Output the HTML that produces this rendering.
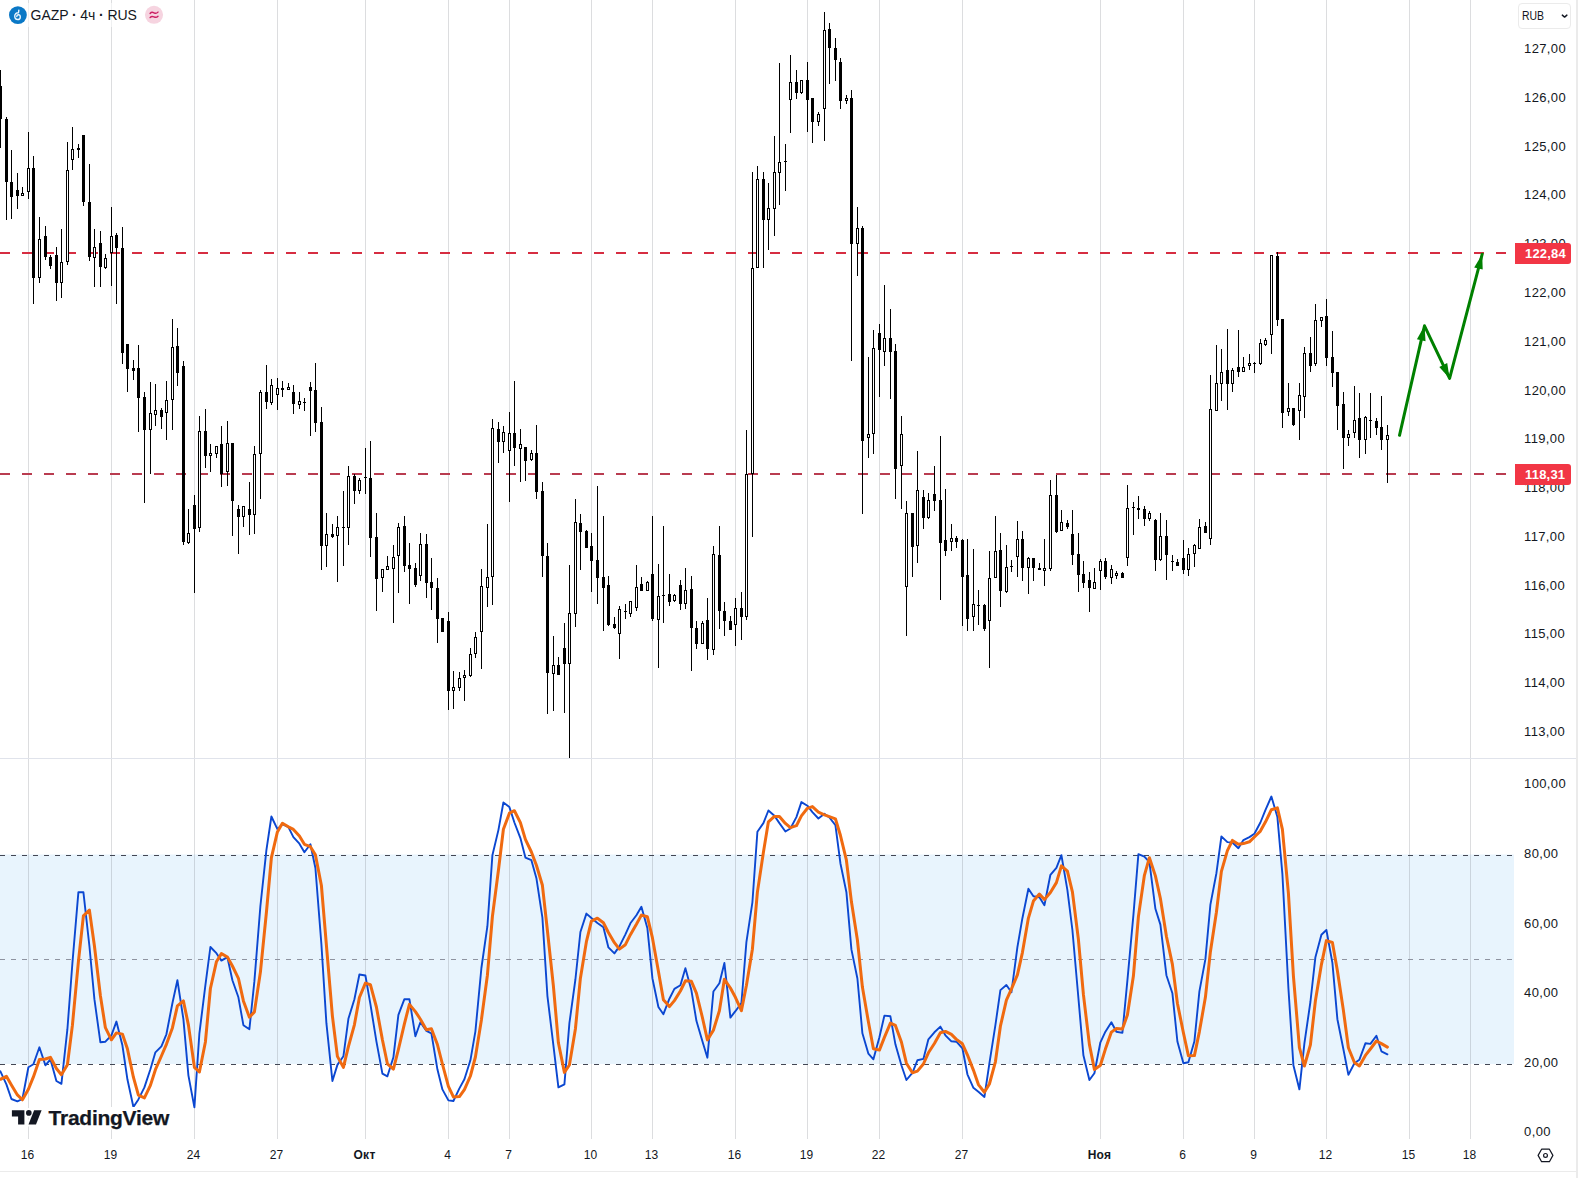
<!DOCTYPE html>
<html lang="ru"><head><meta charset="utf-8"><title>GAZP 4h</title>
<style>
html,body{margin:0;padding:0;background:#fff;}
body{width:1578px;height:1178px;position:relative;overflow:hidden;font-family:"Liberation Sans",sans-serif;color:#131722;}
svg{position:absolute;left:0;top:0;}
.pl{position:absolute;left:1524.1px;font-size:13px;letter-spacing:0.35px;line-height:16px;height:16px;white-space:nowrap;color:#131722;}
.tl{position:absolute;top:1146.6px;font-size:12px;line-height:16px;height:16px;width:60px;text-align:center;white-space:nowrap;color:#131722;}
.tl b{font-weight:bold;letter-spacing:0.3px;}
.tag{position:absolute;left:1515px;width:56px;height:21px;background:#f23645;color:#fff;font-weight:bold;font-size:13px;line-height:21px;border-radius:0 3px 3px 0;box-sizing:border-box;padding-left:10px;letter-spacing:0.2px;white-space:nowrap;}
.legend{position:absolute;left:30.6px;top:6px;font-size:14px;line-height:18px;letter-spacing:-0.08px;white-space:nowrap;color:#131722;}
.rub{position:absolute;left:1518px;top:3px;width:53px;height:26px;box-sizing:border-box;border:1px solid #ebebeb;border-radius:4px;background:#fff;font-size:12px;line-height:24px;padding-left:2.6px;letter-spacing:0;color:#131722;}
.logo{position:absolute;left:48.6px;top:1105.7px;font-size:21px;line-height:24px;font-weight:bold;color:#131722;letter-spacing:-0.26px;-webkit-text-stroke:0.25px #131722;white-space:nowrap;text-shadow:0 0 2px #fff,0 0 2px #fff,0 0 3px #fff,0 0 3px #fff,2px 0 1px #fff,-2px 0 1px #fff,0 2px 1px #fff,0 -2px 1px #fff;}
</style></head><body>
<svg width="1578" height="1178" viewBox="0 0 1578 1178">
<rect x="0" y="0" width="1578" height="1178" fill="#ffffff"/>
<rect x="0" y="854.5" width="1514" height="209.5" fill="#e8f4fd"/>
<g fill="rgba(100,102,114,0.225)" shape-rendering="crispEdges"><rect x="28" y="0" width="1" height="1139"/><rect x="111" y="0" width="1" height="1139"/><rect x="194" y="0" width="1" height="1139"/><rect x="277" y="0" width="1" height="1139"/><rect x="365" y="0" width="1" height="1139"/><rect x="448" y="0" width="1" height="1139"/><rect x="509" y="0" width="1" height="1139"/><rect x="591" y="0" width="1" height="1139"/><rect x="652" y="0" width="1" height="1139"/><rect x="735" y="0" width="1" height="1139"/><rect x="807" y="0" width="1" height="1139"/><rect x="879" y="0" width="1" height="1139"/><rect x="962" y="0" width="1" height="1139"/><rect x="1100" y="0" width="1" height="1139"/><rect x="1183" y="0" width="1" height="1139"/><rect x="1254" y="0" width="1" height="1139"/><rect x="1326" y="0" width="1" height="1139"/><rect x="1409" y="0" width="1" height="1139"/><rect x="1470" y="0" width="1" height="1139"/></g>
<rect x="0" y="758" width="1576" height="1" fill="#e0e3eb" shape-rendering="crispEdges"/>
<g fill="#434754" shape-rendering="crispEdges"><rect x="0" y="855" width="5" height="1"/><rect x="11" y="855" width="5" height="1"/><rect x="22" y="855" width="5" height="1"/><rect x="33" y="855" width="5" height="1"/><rect x="44" y="855" width="5" height="1"/><rect x="55" y="855" width="5" height="1"/><rect x="66" y="855" width="5" height="1"/><rect x="77" y="855" width="5" height="1"/><rect x="88" y="855" width="5" height="1"/><rect x="99" y="855" width="5" height="1"/><rect x="110" y="855" width="5" height="1"/><rect x="121" y="855" width="5" height="1"/><rect x="132" y="855" width="5" height="1"/><rect x="143" y="855" width="5" height="1"/><rect x="154" y="855" width="5" height="1"/><rect x="165" y="855" width="5" height="1"/><rect x="176" y="855" width="5" height="1"/><rect x="187" y="855" width="5" height="1"/><rect x="198" y="855" width="5" height="1"/><rect x="209" y="855" width="5" height="1"/><rect x="220" y="855" width="5" height="1"/><rect x="231" y="855" width="5" height="1"/><rect x="242" y="855" width="5" height="1"/><rect x="253" y="855" width="5" height="1"/><rect x="264" y="855" width="5" height="1"/><rect x="275" y="855" width="5" height="1"/><rect x="286" y="855" width="5" height="1"/><rect x="297" y="855" width="5" height="1"/><rect x="308" y="855" width="5" height="1"/><rect x="319" y="855" width="5" height="1"/><rect x="330" y="855" width="5" height="1"/><rect x="341" y="855" width="5" height="1"/><rect x="352" y="855" width="5" height="1"/><rect x="363" y="855" width="5" height="1"/><rect x="374" y="855" width="5" height="1"/><rect x="385" y="855" width="5" height="1"/><rect x="396" y="855" width="5" height="1"/><rect x="407" y="855" width="5" height="1"/><rect x="418" y="855" width="5" height="1"/><rect x="429" y="855" width="5" height="1"/><rect x="440" y="855" width="5" height="1"/><rect x="451" y="855" width="5" height="1"/><rect x="462" y="855" width="5" height="1"/><rect x="473" y="855" width="5" height="1"/><rect x="484" y="855" width="5" height="1"/><rect x="495" y="855" width="5" height="1"/><rect x="506" y="855" width="5" height="1"/><rect x="517" y="855" width="5" height="1"/><rect x="528" y="855" width="5" height="1"/><rect x="539" y="855" width="5" height="1"/><rect x="550" y="855" width="5" height="1"/><rect x="561" y="855" width="5" height="1"/><rect x="572" y="855" width="5" height="1"/><rect x="583" y="855" width="5" height="1"/><rect x="594" y="855" width="5" height="1"/><rect x="605" y="855" width="5" height="1"/><rect x="616" y="855" width="5" height="1"/><rect x="627" y="855" width="5" height="1"/><rect x="638" y="855" width="5" height="1"/><rect x="649" y="855" width="5" height="1"/><rect x="660" y="855" width="5" height="1"/><rect x="671" y="855" width="5" height="1"/><rect x="682" y="855" width="5" height="1"/><rect x="693" y="855" width="5" height="1"/><rect x="704" y="855" width="5" height="1"/><rect x="715" y="855" width="5" height="1"/><rect x="726" y="855" width="5" height="1"/><rect x="737" y="855" width="5" height="1"/><rect x="748" y="855" width="5" height="1"/><rect x="759" y="855" width="5" height="1"/><rect x="770" y="855" width="5" height="1"/><rect x="781" y="855" width="5" height="1"/><rect x="792" y="855" width="5" height="1"/><rect x="803" y="855" width="5" height="1"/><rect x="814" y="855" width="5" height="1"/><rect x="825" y="855" width="5" height="1"/><rect x="836" y="855" width="5" height="1"/><rect x="847" y="855" width="5" height="1"/><rect x="858" y="855" width="5" height="1"/><rect x="869" y="855" width="5" height="1"/><rect x="880" y="855" width="5" height="1"/><rect x="891" y="855" width="5" height="1"/><rect x="902" y="855" width="5" height="1"/><rect x="913" y="855" width="5" height="1"/><rect x="924" y="855" width="5" height="1"/><rect x="935" y="855" width="5" height="1"/><rect x="946" y="855" width="5" height="1"/><rect x="957" y="855" width="5" height="1"/><rect x="968" y="855" width="5" height="1"/><rect x="979" y="855" width="5" height="1"/><rect x="990" y="855" width="5" height="1"/><rect x="1001" y="855" width="5" height="1"/><rect x="1012" y="855" width="5" height="1"/><rect x="1023" y="855" width="5" height="1"/><rect x="1034" y="855" width="5" height="1"/><rect x="1045" y="855" width="5" height="1"/><rect x="1056" y="855" width="5" height="1"/><rect x="1067" y="855" width="5" height="1"/><rect x="1078" y="855" width="5" height="1"/><rect x="1089" y="855" width="5" height="1"/><rect x="1100" y="855" width="5" height="1"/><rect x="1111" y="855" width="5" height="1"/><rect x="1122" y="855" width="5" height="1"/><rect x="1133" y="855" width="5" height="1"/><rect x="1144" y="855" width="5" height="1"/><rect x="1155" y="855" width="5" height="1"/><rect x="1166" y="855" width="5" height="1"/><rect x="1177" y="855" width="5" height="1"/><rect x="1188" y="855" width="5" height="1"/><rect x="1199" y="855" width="5" height="1"/><rect x="1210" y="855" width="5" height="1"/><rect x="1221" y="855" width="5" height="1"/><rect x="1232" y="855" width="5" height="1"/><rect x="1243" y="855" width="5" height="1"/><rect x="1254" y="855" width="5" height="1"/><rect x="1265" y="855" width="5" height="1"/><rect x="1276" y="855" width="5" height="1"/><rect x="1287" y="855" width="5" height="1"/><rect x="1298" y="855" width="5" height="1"/><rect x="1309" y="855" width="5" height="1"/><rect x="1320" y="855" width="5" height="1"/><rect x="1331" y="855" width="5" height="1"/><rect x="1342" y="855" width="5" height="1"/><rect x="1353" y="855" width="5" height="1"/><rect x="1364" y="855" width="5" height="1"/><rect x="1375" y="855" width="5" height="1"/><rect x="1386" y="855" width="5" height="1"/><rect x="1397" y="855" width="5" height="1"/><rect x="1408" y="855" width="5" height="1"/><rect x="1419" y="855" width="5" height="1"/><rect x="1430" y="855" width="5" height="1"/><rect x="1441" y="855" width="5" height="1"/><rect x="1452" y="855" width="5" height="1"/><rect x="1463" y="855" width="5" height="1"/><rect x="1474" y="855" width="5" height="1"/><rect x="1485" y="855" width="5" height="1"/><rect x="1496" y="855" width="5" height="1"/><rect x="1507" y="855" width="5" height="1"/></g>
<g fill="#434754" shape-rendering="crispEdges"><rect x="0" y="1064" width="5" height="1"/><rect x="11" y="1064" width="5" height="1"/><rect x="22" y="1064" width="5" height="1"/><rect x="33" y="1064" width="5" height="1"/><rect x="44" y="1064" width="5" height="1"/><rect x="55" y="1064" width="5" height="1"/><rect x="66" y="1064" width="5" height="1"/><rect x="77" y="1064" width="5" height="1"/><rect x="88" y="1064" width="5" height="1"/><rect x="99" y="1064" width="5" height="1"/><rect x="110" y="1064" width="5" height="1"/><rect x="121" y="1064" width="5" height="1"/><rect x="132" y="1064" width="5" height="1"/><rect x="143" y="1064" width="5" height="1"/><rect x="154" y="1064" width="5" height="1"/><rect x="165" y="1064" width="5" height="1"/><rect x="176" y="1064" width="5" height="1"/><rect x="187" y="1064" width="5" height="1"/><rect x="198" y="1064" width="5" height="1"/><rect x="209" y="1064" width="5" height="1"/><rect x="220" y="1064" width="5" height="1"/><rect x="231" y="1064" width="5" height="1"/><rect x="242" y="1064" width="5" height="1"/><rect x="253" y="1064" width="5" height="1"/><rect x="264" y="1064" width="5" height="1"/><rect x="275" y="1064" width="5" height="1"/><rect x="286" y="1064" width="5" height="1"/><rect x="297" y="1064" width="5" height="1"/><rect x="308" y="1064" width="5" height="1"/><rect x="319" y="1064" width="5" height="1"/><rect x="330" y="1064" width="5" height="1"/><rect x="341" y="1064" width="5" height="1"/><rect x="352" y="1064" width="5" height="1"/><rect x="363" y="1064" width="5" height="1"/><rect x="374" y="1064" width="5" height="1"/><rect x="385" y="1064" width="5" height="1"/><rect x="396" y="1064" width="5" height="1"/><rect x="407" y="1064" width="5" height="1"/><rect x="418" y="1064" width="5" height="1"/><rect x="429" y="1064" width="5" height="1"/><rect x="440" y="1064" width="5" height="1"/><rect x="451" y="1064" width="5" height="1"/><rect x="462" y="1064" width="5" height="1"/><rect x="473" y="1064" width="5" height="1"/><rect x="484" y="1064" width="5" height="1"/><rect x="495" y="1064" width="5" height="1"/><rect x="506" y="1064" width="5" height="1"/><rect x="517" y="1064" width="5" height="1"/><rect x="528" y="1064" width="5" height="1"/><rect x="539" y="1064" width="5" height="1"/><rect x="550" y="1064" width="5" height="1"/><rect x="561" y="1064" width="5" height="1"/><rect x="572" y="1064" width="5" height="1"/><rect x="583" y="1064" width="5" height="1"/><rect x="594" y="1064" width="5" height="1"/><rect x="605" y="1064" width="5" height="1"/><rect x="616" y="1064" width="5" height="1"/><rect x="627" y="1064" width="5" height="1"/><rect x="638" y="1064" width="5" height="1"/><rect x="649" y="1064" width="5" height="1"/><rect x="660" y="1064" width="5" height="1"/><rect x="671" y="1064" width="5" height="1"/><rect x="682" y="1064" width="5" height="1"/><rect x="693" y="1064" width="5" height="1"/><rect x="704" y="1064" width="5" height="1"/><rect x="715" y="1064" width="5" height="1"/><rect x="726" y="1064" width="5" height="1"/><rect x="737" y="1064" width="5" height="1"/><rect x="748" y="1064" width="5" height="1"/><rect x="759" y="1064" width="5" height="1"/><rect x="770" y="1064" width="5" height="1"/><rect x="781" y="1064" width="5" height="1"/><rect x="792" y="1064" width="5" height="1"/><rect x="803" y="1064" width="5" height="1"/><rect x="814" y="1064" width="5" height="1"/><rect x="825" y="1064" width="5" height="1"/><rect x="836" y="1064" width="5" height="1"/><rect x="847" y="1064" width="5" height="1"/><rect x="858" y="1064" width="5" height="1"/><rect x="869" y="1064" width="5" height="1"/><rect x="880" y="1064" width="5" height="1"/><rect x="891" y="1064" width="5" height="1"/><rect x="902" y="1064" width="5" height="1"/><rect x="913" y="1064" width="5" height="1"/><rect x="924" y="1064" width="5" height="1"/><rect x="935" y="1064" width="5" height="1"/><rect x="946" y="1064" width="5" height="1"/><rect x="957" y="1064" width="5" height="1"/><rect x="968" y="1064" width="5" height="1"/><rect x="979" y="1064" width="5" height="1"/><rect x="990" y="1064" width="5" height="1"/><rect x="1001" y="1064" width="5" height="1"/><rect x="1012" y="1064" width="5" height="1"/><rect x="1023" y="1064" width="5" height="1"/><rect x="1034" y="1064" width="5" height="1"/><rect x="1045" y="1064" width="5" height="1"/><rect x="1056" y="1064" width="5" height="1"/><rect x="1067" y="1064" width="5" height="1"/><rect x="1078" y="1064" width="5" height="1"/><rect x="1089" y="1064" width="5" height="1"/><rect x="1100" y="1064" width="5" height="1"/><rect x="1111" y="1064" width="5" height="1"/><rect x="1122" y="1064" width="5" height="1"/><rect x="1133" y="1064" width="5" height="1"/><rect x="1144" y="1064" width="5" height="1"/><rect x="1155" y="1064" width="5" height="1"/><rect x="1166" y="1064" width="5" height="1"/><rect x="1177" y="1064" width="5" height="1"/><rect x="1188" y="1064" width="5" height="1"/><rect x="1199" y="1064" width="5" height="1"/><rect x="1210" y="1064" width="5" height="1"/><rect x="1221" y="1064" width="5" height="1"/><rect x="1232" y="1064" width="5" height="1"/><rect x="1243" y="1064" width="5" height="1"/><rect x="1254" y="1064" width="5" height="1"/><rect x="1265" y="1064" width="5" height="1"/><rect x="1276" y="1064" width="5" height="1"/><rect x="1287" y="1064" width="5" height="1"/><rect x="1298" y="1064" width="5" height="1"/><rect x="1309" y="1064" width="5" height="1"/><rect x="1320" y="1064" width="5" height="1"/><rect x="1331" y="1064" width="5" height="1"/><rect x="1342" y="1064" width="5" height="1"/><rect x="1353" y="1064" width="5" height="1"/><rect x="1364" y="1064" width="5" height="1"/><rect x="1375" y="1064" width="5" height="1"/><rect x="1386" y="1064" width="5" height="1"/><rect x="1397" y="1064" width="5" height="1"/><rect x="1408" y="1064" width="5" height="1"/><rect x="1419" y="1064" width="5" height="1"/><rect x="1430" y="1064" width="5" height="1"/><rect x="1441" y="1064" width="5" height="1"/><rect x="1452" y="1064" width="5" height="1"/><rect x="1463" y="1064" width="5" height="1"/><rect x="1474" y="1064" width="5" height="1"/><rect x="1485" y="1064" width="5" height="1"/><rect x="1496" y="1064" width="5" height="1"/><rect x="1507" y="1064" width="5" height="1"/></g>
<g fill="#8e93a0" shape-rendering="crispEdges"><rect x="0" y="959" width="5" height="1"/><rect x="11" y="959" width="5" height="1"/><rect x="22" y="959" width="5" height="1"/><rect x="33" y="959" width="5" height="1"/><rect x="44" y="959" width="5" height="1"/><rect x="55" y="959" width="5" height="1"/><rect x="66" y="959" width="5" height="1"/><rect x="77" y="959" width="5" height="1"/><rect x="88" y="959" width="5" height="1"/><rect x="99" y="959" width="5" height="1"/><rect x="110" y="959" width="5" height="1"/><rect x="121" y="959" width="5" height="1"/><rect x="132" y="959" width="5" height="1"/><rect x="143" y="959" width="5" height="1"/><rect x="154" y="959" width="5" height="1"/><rect x="165" y="959" width="5" height="1"/><rect x="176" y="959" width="5" height="1"/><rect x="187" y="959" width="5" height="1"/><rect x="198" y="959" width="5" height="1"/><rect x="209" y="959" width="5" height="1"/><rect x="220" y="959" width="5" height="1"/><rect x="231" y="959" width="5" height="1"/><rect x="242" y="959" width="5" height="1"/><rect x="253" y="959" width="5" height="1"/><rect x="264" y="959" width="5" height="1"/><rect x="275" y="959" width="5" height="1"/><rect x="286" y="959" width="5" height="1"/><rect x="297" y="959" width="5" height="1"/><rect x="308" y="959" width="5" height="1"/><rect x="319" y="959" width="5" height="1"/><rect x="330" y="959" width="5" height="1"/><rect x="341" y="959" width="5" height="1"/><rect x="352" y="959" width="5" height="1"/><rect x="363" y="959" width="5" height="1"/><rect x="374" y="959" width="5" height="1"/><rect x="385" y="959" width="5" height="1"/><rect x="396" y="959" width="5" height="1"/><rect x="407" y="959" width="5" height="1"/><rect x="418" y="959" width="5" height="1"/><rect x="429" y="959" width="5" height="1"/><rect x="440" y="959" width="5" height="1"/><rect x="451" y="959" width="5" height="1"/><rect x="462" y="959" width="5" height="1"/><rect x="473" y="959" width="5" height="1"/><rect x="484" y="959" width="5" height="1"/><rect x="495" y="959" width="5" height="1"/><rect x="506" y="959" width="5" height="1"/><rect x="517" y="959" width="5" height="1"/><rect x="528" y="959" width="5" height="1"/><rect x="539" y="959" width="5" height="1"/><rect x="550" y="959" width="5" height="1"/><rect x="561" y="959" width="5" height="1"/><rect x="572" y="959" width="5" height="1"/><rect x="583" y="959" width="5" height="1"/><rect x="594" y="959" width="5" height="1"/><rect x="605" y="959" width="5" height="1"/><rect x="616" y="959" width="5" height="1"/><rect x="627" y="959" width="5" height="1"/><rect x="638" y="959" width="5" height="1"/><rect x="649" y="959" width="5" height="1"/><rect x="660" y="959" width="5" height="1"/><rect x="671" y="959" width="5" height="1"/><rect x="682" y="959" width="5" height="1"/><rect x="693" y="959" width="5" height="1"/><rect x="704" y="959" width="5" height="1"/><rect x="715" y="959" width="5" height="1"/><rect x="726" y="959" width="5" height="1"/><rect x="737" y="959" width="5" height="1"/><rect x="748" y="959" width="5" height="1"/><rect x="759" y="959" width="5" height="1"/><rect x="770" y="959" width="5" height="1"/><rect x="781" y="959" width="5" height="1"/><rect x="792" y="959" width="5" height="1"/><rect x="803" y="959" width="5" height="1"/><rect x="814" y="959" width="5" height="1"/><rect x="825" y="959" width="5" height="1"/><rect x="836" y="959" width="5" height="1"/><rect x="847" y="959" width="5" height="1"/><rect x="858" y="959" width="5" height="1"/><rect x="869" y="959" width="5" height="1"/><rect x="880" y="959" width="5" height="1"/><rect x="891" y="959" width="5" height="1"/><rect x="902" y="959" width="5" height="1"/><rect x="913" y="959" width="5" height="1"/><rect x="924" y="959" width="5" height="1"/><rect x="935" y="959" width="5" height="1"/><rect x="946" y="959" width="5" height="1"/><rect x="957" y="959" width="5" height="1"/><rect x="968" y="959" width="5" height="1"/><rect x="979" y="959" width="5" height="1"/><rect x="990" y="959" width="5" height="1"/><rect x="1001" y="959" width="5" height="1"/><rect x="1012" y="959" width="5" height="1"/><rect x="1023" y="959" width="5" height="1"/><rect x="1034" y="959" width="5" height="1"/><rect x="1045" y="959" width="5" height="1"/><rect x="1056" y="959" width="5" height="1"/><rect x="1067" y="959" width="5" height="1"/><rect x="1078" y="959" width="5" height="1"/><rect x="1089" y="959" width="5" height="1"/><rect x="1100" y="959" width="5" height="1"/><rect x="1111" y="959" width="5" height="1"/><rect x="1122" y="959" width="5" height="1"/><rect x="1133" y="959" width="5" height="1"/><rect x="1144" y="959" width="5" height="1"/><rect x="1155" y="959" width="5" height="1"/><rect x="1166" y="959" width="5" height="1"/><rect x="1177" y="959" width="5" height="1"/><rect x="1188" y="959" width="5" height="1"/><rect x="1199" y="959" width="5" height="1"/><rect x="1210" y="959" width="5" height="1"/><rect x="1221" y="959" width="5" height="1"/><rect x="1232" y="959" width="5" height="1"/><rect x="1243" y="959" width="5" height="1"/><rect x="1254" y="959" width="5" height="1"/><rect x="1265" y="959" width="5" height="1"/><rect x="1276" y="959" width="5" height="1"/><rect x="1287" y="959" width="5" height="1"/><rect x="1298" y="959" width="5" height="1"/><rect x="1309" y="959" width="5" height="1"/><rect x="1320" y="959" width="5" height="1"/><rect x="1331" y="959" width="5" height="1"/><rect x="1342" y="959" width="5" height="1"/><rect x="1353" y="959" width="5" height="1"/><rect x="1364" y="959" width="5" height="1"/><rect x="1375" y="959" width="5" height="1"/><rect x="1386" y="959" width="5" height="1"/><rect x="1397" y="959" width="5" height="1"/><rect x="1408" y="959" width="5" height="1"/><rect x="1419" y="959" width="5" height="1"/><rect x="1430" y="959" width="5" height="1"/><rect x="1441" y="959" width="5" height="1"/><rect x="1452" y="959" width="5" height="1"/><rect x="1463" y="959" width="5" height="1"/><rect x="1474" y="959" width="5" height="1"/><rect x="1485" y="959" width="5" height="1"/><rect x="1496" y="959" width="5" height="1"/><rect x="1507" y="959" width="5" height="1"/></g>
<g fill="#d62d41" shape-rendering="crispEdges"><rect x="0" y="252" width="10" height="2"/><rect x="22" y="252" width="10" height="2"/><rect x="44" y="252" width="10" height="2"/><rect x="66" y="252" width="10" height="2"/><rect x="88" y="252" width="10" height="2"/><rect x="110" y="252" width="10" height="2"/><rect x="132" y="252" width="10" height="2"/><rect x="154" y="252" width="10" height="2"/><rect x="176" y="252" width="10" height="2"/><rect x="198" y="252" width="10" height="2"/><rect x="220" y="252" width="10" height="2"/><rect x="242" y="252" width="10" height="2"/><rect x="264" y="252" width="10" height="2"/><rect x="286" y="252" width="10" height="2"/><rect x="308" y="252" width="10" height="2"/><rect x="330" y="252" width="10" height="2"/><rect x="352" y="252" width="10" height="2"/><rect x="374" y="252" width="10" height="2"/><rect x="396" y="252" width="10" height="2"/><rect x="418" y="252" width="10" height="2"/><rect x="440" y="252" width="10" height="2"/><rect x="462" y="252" width="10" height="2"/><rect x="484" y="252" width="10" height="2"/><rect x="506" y="252" width="10" height="2"/><rect x="528" y="252" width="10" height="2"/><rect x="550" y="252" width="10" height="2"/><rect x="572" y="252" width="10" height="2"/><rect x="594" y="252" width="10" height="2"/><rect x="616" y="252" width="10" height="2"/><rect x="638" y="252" width="10" height="2"/><rect x="660" y="252" width="10" height="2"/><rect x="682" y="252" width="10" height="2"/><rect x="704" y="252" width="10" height="2"/><rect x="726" y="252" width="10" height="2"/><rect x="748" y="252" width="10" height="2"/><rect x="770" y="252" width="10" height="2"/><rect x="792" y="252" width="10" height="2"/><rect x="814" y="252" width="10" height="2"/><rect x="836" y="252" width="10" height="2"/><rect x="858" y="252" width="10" height="2"/><rect x="880" y="252" width="10" height="2"/><rect x="902" y="252" width="10" height="2"/><rect x="924" y="252" width="10" height="2"/><rect x="946" y="252" width="10" height="2"/><rect x="968" y="252" width="10" height="2"/><rect x="990" y="252" width="10" height="2"/><rect x="1012" y="252" width="10" height="2"/><rect x="1034" y="252" width="10" height="2"/><rect x="1056" y="252" width="10" height="2"/><rect x="1078" y="252" width="10" height="2"/><rect x="1100" y="252" width="10" height="2"/><rect x="1122" y="252" width="10" height="2"/><rect x="1144" y="252" width="10" height="2"/><rect x="1166" y="252" width="10" height="2"/><rect x="1188" y="252" width="10" height="2"/><rect x="1210" y="252" width="10" height="2"/><rect x="1232" y="252" width="10" height="2"/><rect x="1254" y="252" width="10" height="2"/><rect x="1276" y="252" width="10" height="2"/><rect x="1298" y="252" width="10" height="2"/><rect x="1320" y="252" width="10" height="2"/><rect x="1342" y="252" width="10" height="2"/><rect x="1364" y="252" width="10" height="2"/><rect x="1386" y="252" width="10" height="2"/><rect x="1408" y="252" width="10" height="2"/><rect x="1430" y="252" width="10" height="2"/><rect x="1452" y="252" width="10" height="2"/><rect x="1474" y="252" width="10" height="2"/><rect x="1496" y="252" width="10" height="2"/></g>
<g fill="#b93c50" shape-rendering="crispEdges"><rect x="0" y="473" width="10" height="2"/><rect x="22" y="473" width="10" height="2"/><rect x="44" y="473" width="10" height="2"/><rect x="66" y="473" width="10" height="2"/><rect x="88" y="473" width="10" height="2"/><rect x="110" y="473" width="10" height="2"/><rect x="132" y="473" width="10" height="2"/><rect x="154" y="473" width="10" height="2"/><rect x="176" y="473" width="10" height="2"/><rect x="198" y="473" width="10" height="2"/><rect x="220" y="473" width="10" height="2"/><rect x="242" y="473" width="10" height="2"/><rect x="264" y="473" width="10" height="2"/><rect x="286" y="473" width="10" height="2"/><rect x="308" y="473" width="10" height="2"/><rect x="330" y="473" width="10" height="2"/><rect x="352" y="473" width="10" height="2"/><rect x="374" y="473" width="10" height="2"/><rect x="396" y="473" width="10" height="2"/><rect x="418" y="473" width="10" height="2"/><rect x="440" y="473" width="10" height="2"/><rect x="462" y="473" width="10" height="2"/><rect x="484" y="473" width="10" height="2"/><rect x="506" y="473" width="10" height="2"/><rect x="528" y="473" width="10" height="2"/><rect x="550" y="473" width="10" height="2"/><rect x="572" y="473" width="10" height="2"/><rect x="594" y="473" width="10" height="2"/><rect x="616" y="473" width="10" height="2"/><rect x="638" y="473" width="10" height="2"/><rect x="660" y="473" width="10" height="2"/><rect x="682" y="473" width="10" height="2"/><rect x="704" y="473" width="10" height="2"/><rect x="726" y="473" width="10" height="2"/><rect x="748" y="473" width="10" height="2"/><rect x="770" y="473" width="10" height="2"/><rect x="792" y="473" width="10" height="2"/><rect x="814" y="473" width="10" height="2"/><rect x="836" y="473" width="10" height="2"/><rect x="858" y="473" width="10" height="2"/><rect x="880" y="473" width="10" height="2"/><rect x="902" y="473" width="10" height="2"/><rect x="924" y="473" width="10" height="2"/><rect x="946" y="473" width="10" height="2"/><rect x="968" y="473" width="10" height="2"/><rect x="990" y="473" width="10" height="2"/><rect x="1012" y="473" width="10" height="2"/><rect x="1034" y="473" width="10" height="2"/><rect x="1056" y="473" width="10" height="2"/><rect x="1078" y="473" width="10" height="2"/><rect x="1100" y="473" width="10" height="2"/><rect x="1122" y="473" width="10" height="2"/><rect x="1144" y="473" width="10" height="2"/><rect x="1166" y="473" width="10" height="2"/><rect x="1188" y="473" width="10" height="2"/><rect x="1210" y="473" width="10" height="2"/><rect x="1232" y="473" width="10" height="2"/><rect x="1254" y="473" width="10" height="2"/><rect x="1276" y="473" width="10" height="2"/><rect x="1298" y="473" width="10" height="2"/><rect x="1320" y="473" width="10" height="2"/><rect x="1342" y="473" width="10" height="2"/><rect x="1364" y="473" width="10" height="2"/><rect x="1386" y="473" width="10" height="2"/><rect x="1408" y="473" width="10" height="2"/><rect x="1430" y="473" width="10" height="2"/><rect x="1452" y="473" width="10" height="2"/><rect x="1474" y="473" width="10" height="2"/><rect x="1496" y="473" width="10" height="2"/></g>
<g fill="#000000" shape-rendering="crispEdges"><rect x="0" y="70" width="1" height="78"/><rect x="6" y="117" width="1" height="103"/><rect x="11" y="150" width="1" height="69"/><rect x="17" y="173" width="1" height="36"/><rect x="22" y="187" width="1" height="6"/><rect x="28" y="132" width="1" height="36"/><rect x="28" y="192" width="1" height="7"/><rect x="33" y="156" width="1" height="148"/><rect x="39" y="217" width="1" height="22"/><rect x="39" y="278" width="1" height="5"/><rect x="45" y="226" width="1" height="34"/><rect x="50" y="255" width="1" height="14"/><rect x="56" y="247" width="1" height="54"/><rect x="61" y="229" width="1" height="33"/><rect x="61" y="283" width="1" height="15"/><rect x="67" y="142" width="1" height="28"/><rect x="67" y="262" width="1" height="3"/><rect x="72" y="127" width="1" height="22"/><rect x="72" y="160" width="1" height="10"/><rect x="78" y="144" width="1" height="14"/><rect x="83" y="135" width="1" height="71"/><rect x="89" y="164" width="1" height="97"/><rect x="94" y="229" width="1" height="18"/><rect x="94" y="258" width="1" height="29"/><rect x="100" y="231" width="1" height="56"/><rect x="105" y="254" width="1" height="4"/><rect x="105" y="268" width="1" height="1"/><rect x="111" y="207" width="1" height="29"/><rect x="111" y="253" width="1" height="33"/><rect x="116" y="233" width="1" height="71"/><rect x="122" y="227" width="1" height="137"/><rect x="127" y="344" width="1" height="48"/><rect x="133" y="360" width="1" height="20"/><rect x="138" y="345" width="1" height="87"/><rect x="144" y="392" width="1" height="111"/><rect x="150" y="382" width="1" height="31"/><rect x="150" y="430" width="1" height="44"/><rect x="155" y="384" width="1" height="26"/><rect x="155" y="415" width="1" height="11"/><rect x="161" y="408" width="1" height="21"/><rect x="166" y="381" width="1" height="19"/><rect x="166" y="413" width="1" height="27"/><rect x="172" y="319" width="1" height="28"/><rect x="172" y="400" width="1" height="30"/><rect x="177" y="328" width="1" height="58"/><rect x="183" y="361" width="1" height="184"/><rect x="188" y="509" width="1" height="24"/><rect x="188" y="543" width="1" height="1"/><rect x="194" y="495" width="1" height="98"/><rect x="199" y="416" width="1" height="15"/><rect x="199" y="528" width="1" height="4"/><rect x="205" y="409" width="1" height="59"/><rect x="210" y="444" width="1" height="9"/><rect x="210" y="456" width="1" height="16"/><rect x="216" y="454" width="1" height="4"/><rect x="221" y="426" width="1" height="61"/><rect x="227" y="421" width="1" height="22"/><rect x="227" y="472" width="1" height="14"/><rect x="232" y="443" width="1" height="93"/><rect x="238" y="505" width="1" height="49"/><rect x="243" y="517" width="1" height="10"/><rect x="249" y="482" width="1" height="53"/><rect x="254" y="446" width="1" height="8"/><rect x="254" y="515" width="1" height="19"/><rect x="260" y="390" width="1" height="2"/><rect x="260" y="454" width="1" height="45"/><rect x="266" y="365" width="1" height="44"/><rect x="271" y="379" width="1" height="6"/><rect x="271" y="403" width="1" height="2"/><rect x="277" y="378" width="1" height="10"/><rect x="277" y="395" width="1" height="15"/><rect x="282" y="381" width="1" height="16"/><rect x="288" y="383" width="1" height="4"/><rect x="293" y="385" width="1" height="29"/><rect x="299" y="392" width="1" height="9"/><rect x="299" y="405" width="1" height="4"/><rect x="304" y="398" width="1" height="13"/><rect x="310" y="382" width="1" height="54"/><rect x="315" y="363" width="1" height="69"/><rect x="321" y="407" width="1" height="163"/><rect x="326" y="513" width="1" height="21"/><rect x="326" y="546" width="1" height="21"/><rect x="332" y="524" width="1" height="14"/><rect x="337" y="516" width="1" height="11"/><rect x="337" y="536" width="1" height="46"/><rect x="343" y="491" width="1" height="75"/><rect x="348" y="466" width="1" height="10"/><rect x="348" y="528" width="1" height="17"/><rect x="354" y="474" width="1" height="30"/><rect x="359" y="478" width="1" height="2"/><rect x="359" y="491" width="1" height="3"/><rect x="365" y="448" width="1" height="46"/><rect x="370" y="441" width="1" height="116"/><rect x="376" y="513" width="1" height="98"/><rect x="382" y="578" width="1" height="14"/><rect x="387" y="556" width="1" height="10"/><rect x="393" y="545" width="1" height="12"/><rect x="393" y="569" width="1" height="54"/><rect x="398" y="523" width="1" height="4"/><rect x="398" y="556" width="1" height="37"/><rect x="404" y="516" width="1" height="56"/><rect x="409" y="543" width="1" height="61"/><rect x="415" y="563" width="1" height="24"/><rect x="420" y="533" width="1" height="11"/><rect x="420" y="576" width="1" height="5"/><rect x="426" y="534" width="1" height="64"/><rect x="431" y="558" width="1" height="52"/><rect x="437" y="578" width="1" height="65"/><rect x="442" y="618" width="1" height="14"/><rect x="448" y="612" width="1" height="98"/><rect x="453" y="671" width="1" height="16"/><rect x="453" y="691" width="1" height="18"/><rect x="459" y="672" width="1" height="6"/><rect x="459" y="688" width="1" height="3"/><rect x="464" y="670" width="1" height="5"/><rect x="464" y="678" width="1" height="23"/><rect x="470" y="648" width="1" height="6"/><rect x="470" y="676" width="1" height="1"/><rect x="475" y="632" width="1" height="5"/><rect x="475" y="654" width="1" height="4"/><rect x="481" y="569" width="1" height="17"/><rect x="481" y="632" width="1" height="37"/><rect x="487" y="524" width="1" height="53"/><rect x="487" y="588" width="1" height="19"/><rect x="492" y="419" width="1" height="9"/><rect x="492" y="577" width="1" height="28"/><rect x="498" y="422" width="1" height="41"/><rect x="503" y="426" width="1" height="6"/><rect x="503" y="442" width="1" height="11"/><rect x="509" y="412" width="1" height="21"/><rect x="509" y="451" width="1" height="51"/><rect x="514" y="381" width="1" height="85"/><rect x="520" y="429" width="1" height="15"/><rect x="520" y="449" width="1" height="33"/><rect x="525" y="447" width="1" height="34"/><rect x="531" y="450" width="1" height="3"/><rect x="531" y="460" width="1" height="1"/><rect x="536" y="425" width="1" height="74"/><rect x="542" y="482" width="1" height="95"/><rect x="547" y="543" width="1" height="171"/><rect x="553" y="636" width="1" height="29"/><rect x="553" y="674" width="1" height="37"/><rect x="558" y="657" width="1" height="18"/><rect x="564" y="623" width="1" height="90"/><rect x="569" y="565" width="1" height="48"/><rect x="569" y="664" width="1" height="94"/><rect x="575" y="499" width="1" height="23"/><rect x="575" y="614" width="1" height="13"/><rect x="580" y="514" width="1" height="56"/><rect x="586" y="530" width="1" height="18"/><rect x="591" y="533" width="1" height="59"/><rect x="597" y="486" width="1" height="118"/><rect x="603" y="516" width="1" height="115"/><rect x="608" y="576" width="1" height="50"/><rect x="614" y="617" width="1" height="12"/><rect x="619" y="606" width="1" height="3"/><rect x="619" y="634" width="1" height="25"/><rect x="625" y="604" width="1" height="15"/><rect x="630" y="614" width="1" height="3"/><rect x="636" y="565" width="1" height="22"/><rect x="636" y="608" width="1" height="3"/><rect x="641" y="577" width="1" height="14"/><rect x="647" y="581" width="1" height="1"/><rect x="652" y="516" width="1" height="105"/><rect x="658" y="564" width="1" height="32"/><rect x="658" y="620" width="1" height="48"/><rect x="663" y="526" width="1" height="97"/><rect x="669" y="574" width="1" height="32"/><rect x="674" y="594" width="1" height="1"/><rect x="674" y="601" width="1" height="1"/><rect x="680" y="580" width="1" height="30"/><rect x="685" y="568" width="1" height="22"/><rect x="685" y="604" width="1" height="5"/><rect x="691" y="576" width="1" height="95"/><rect x="696" y="621" width="1" height="28"/><rect x="702" y="621" width="1" height="2"/><rect x="707" y="598" width="1" height="62"/><rect x="713" y="546" width="1" height="8"/><rect x="713" y="650" width="1" height="5"/><rect x="719" y="526" width="1" height="103"/><rect x="724" y="602" width="1" height="34"/><rect x="730" y="616" width="1" height="14"/><rect x="735" y="598" width="1" height="10"/><rect x="735" y="625" width="1" height="21"/><rect x="741" y="592" width="1" height="48"/><rect x="746" y="430" width="1" height="44"/><rect x="746" y="617" width="1" height="3"/><rect x="752" y="172" width="1" height="96"/><rect x="752" y="474" width="1" height="63"/><rect x="757" y="166" width="1" height="13"/><rect x="763" y="172" width="1" height="96"/><rect x="768" y="183" width="1" height="25"/><rect x="768" y="220" width="1" height="30"/><rect x="774" y="136" width="1" height="36"/><rect x="774" y="209" width="1" height="27"/><rect x="779" y="63" width="1" height="99"/><rect x="779" y="173" width="1" height="32"/><rect x="785" y="144" width="1" height="47"/><rect x="790" y="55" width="1" height="27"/><rect x="790" y="100" width="1" height="33"/><rect x="796" y="70" width="1" height="29"/><rect x="801" y="93" width="1" height="1"/><rect x="807" y="62" width="1" height="70"/><rect x="812" y="98" width="1" height="45"/><rect x="818" y="112" width="1" height="2"/><rect x="818" y="122" width="1" height="4"/><rect x="824" y="12" width="1" height="18"/><rect x="824" y="109" width="1" height="32"/><rect x="829" y="23" width="1" height="61"/><rect x="835" y="38" width="1" height="43"/><rect x="840" y="58" width="1" height="51"/><rect x="846" y="95" width="1" height="3"/><rect x="846" y="101" width="1" height="3"/><rect x="851" y="90" width="1" height="271"/><rect x="857" y="207" width="1" height="21"/><rect x="857" y="244" width="1" height="32"/><rect x="862" y="226" width="1" height="288"/><rect x="868" y="357" width="1" height="77"/><rect x="868" y="438" width="1" height="20"/><rect x="873" y="330" width="1" height="18"/><rect x="873" y="434" width="1" height="20"/><rect x="879" y="324" width="1" height="73"/><rect x="884" y="285" width="1" height="53"/><rect x="884" y="352" width="1" height="14"/><rect x="890" y="309" width="1" height="90"/><rect x="895" y="344" width="1" height="155"/><rect x="901" y="416" width="1" height="18"/><rect x="901" y="466" width="1" height="43"/><rect x="906" y="501" width="1" height="12"/><rect x="906" y="587" width="1" height="49"/><rect x="912" y="513" width="1" height="64"/><rect x="917" y="451" width="1" height="39"/><rect x="917" y="546" width="1" height="17"/><rect x="923" y="490" width="1" height="39"/><rect x="928" y="493" width="1" height="7"/><rect x="928" y="518" width="1" height="1"/><rect x="934" y="466" width="1" height="45"/><rect x="940" y="436" width="1" height="164"/><rect x="945" y="489" width="1" height="67"/><rect x="951" y="524" width="1" height="14"/><rect x="951" y="542" width="1" height="9"/><rect x="956" y="536" width="1" height="12"/><rect x="962" y="539" width="1" height="87"/><rect x="967" y="539" width="1" height="92"/><rect x="973" y="549" width="1" height="55"/><rect x="973" y="617" width="1" height="14"/><rect x="978" y="590" width="1" height="35"/><rect x="984" y="604" width="1" height="27"/><rect x="989" y="551" width="1" height="27"/><rect x="989" y="621" width="1" height="47"/><rect x="995" y="516" width="1" height="35"/><rect x="1000" y="533" width="1" height="74"/><rect x="1006" y="545" width="1" height="22"/><rect x="1006" y="592" width="1" height="1"/><rect x="1011" y="560" width="1" height="12"/><rect x="1017" y="521" width="1" height="18"/><rect x="1017" y="557" width="1" height="20"/><rect x="1022" y="531" width="1" height="50"/><rect x="1028" y="557" width="1" height="1"/><rect x="1028" y="568" width="1" height="26"/><rect x="1033" y="558" width="1" height="23"/><rect x="1039" y="563" width="1" height="7"/><rect x="1044" y="539" width="1" height="29"/><rect x="1044" y="571" width="1" height="15"/><rect x="1050" y="480" width="1" height="15"/><rect x="1050" y="569" width="1" height="2"/><rect x="1056" y="475" width="1" height="58"/><rect x="1061" y="510" width="1" height="12"/><rect x="1067" y="520" width="1" height="9"/><rect x="1072" y="510" width="1" height="55"/><rect x="1078" y="533" width="1" height="59"/><rect x="1083" y="561" width="1" height="27"/><rect x="1089" y="572" width="1" height="40"/><rect x="1094" y="568" width="1" height="14"/><rect x="1100" y="559" width="1" height="2"/><rect x="1100" y="571" width="1" height="19"/><rect x="1105" y="558" width="1" height="21"/><rect x="1111" y="565" width="1" height="4"/><rect x="1111" y="578" width="1" height="6"/><rect x="1116" y="571" width="1" height="2"/><rect x="1116" y="576" width="1" height="3"/><rect x="1122" y="572" width="1" height="6"/><rect x="1127" y="485" width="1" height="23"/><rect x="1127" y="558" width="1" height="8"/><rect x="1133" y="502" width="1" height="33"/><rect x="1138" y="496" width="1" height="23"/><rect x="1144" y="506" width="1" height="20"/><rect x="1149" y="511" width="1" height="2"/><rect x="1149" y="519" width="1" height="2"/><rect x="1155" y="519" width="1" height="52"/><rect x="1160" y="513" width="1" height="23"/><rect x="1160" y="560" width="1" height="1"/><rect x="1166" y="520" width="1" height="60"/><rect x="1172" y="555" width="1" height="16"/><rect x="1177" y="559" width="1" height="7"/><rect x="1183" y="540" width="1" height="34"/><rect x="1188" y="548" width="1" height="6"/><rect x="1188" y="570" width="1" height="6"/><rect x="1194" y="544" width="1" height="1"/><rect x="1194" y="554" width="1" height="13"/><rect x="1199" y="519" width="1" height="8"/><rect x="1205" y="522" width="1" height="11"/><rect x="1210" y="375" width="1" height="34"/><rect x="1210" y="539" width="1" height="6"/><rect x="1216" y="345" width="1" height="38"/><rect x="1221" y="349" width="1" height="23"/><rect x="1221" y="384" width="1" height="17"/><rect x="1227" y="329" width="1" height="81"/><rect x="1232" y="368" width="1" height="2"/><rect x="1232" y="384" width="1" height="8"/><rect x="1238" y="330" width="1" height="47"/><rect x="1243" y="357" width="1" height="10"/><rect x="1249" y="354" width="1" height="9"/><rect x="1249" y="366" width="1" height="4"/><rect x="1254" y="362" width="1" height="11"/><rect x="1260" y="339" width="1" height="4"/><rect x="1260" y="364" width="1" height="1"/><rect x="1265" y="338" width="1" height="2"/><rect x="1265" y="345" width="1" height="1"/><rect x="1271" y="335" width="1" height="19"/><rect x="1277" y="252" width="1" height="74"/><rect x="1282" y="319" width="1" height="109"/><rect x="1288" y="383" width="1" height="25"/><rect x="1288" y="412" width="1" height="4"/><rect x="1293" y="408" width="1" height="18"/><rect x="1299" y="383" width="1" height="12"/><rect x="1299" y="411" width="1" height="29"/><rect x="1304" y="347" width="1" height="6"/><rect x="1304" y="397" width="1" height="21"/><rect x="1310" y="337" width="1" height="35"/><rect x="1315" y="304" width="1" height="16"/><rect x="1315" y="364" width="1" height="2"/><rect x="1321" y="321" width="1" height="6"/><rect x="1326" y="299" width="1" height="67"/><rect x="1332" y="331" width="1" height="56"/><rect x="1337" y="372" width="1" height="58"/><rect x="1343" y="392" width="1" height="77"/><rect x="1348" y="430" width="1" height="4"/><rect x="1348" y="438" width="1" height="8"/><rect x="1354" y="386" width="1" height="34"/><rect x="1354" y="433" width="1" height="5"/><rect x="1359" y="393" width="1" height="65"/><rect x="1365" y="416" width="1" height="1"/><rect x="1365" y="440" width="1" height="14"/><rect x="1370" y="393" width="1" height="45"/><rect x="1376" y="418" width="1" height="17"/><rect x="1381" y="396" width="1" height="54"/><rect x="1387" y="425" width="1" height="10"/><rect x="1387" y="440" width="1" height="43"/><rect x="-1" y="86" width="3" height="33"/><rect x="5" y="119" width="3" height="63"/><rect x="10" y="182" width="3" height="15"/><rect x="16" y="190" width="3" height="6"/><rect x="21" y="193" width="3" height="3"/><rect x="27" y="168" width="3" height="24"/><rect x="32" y="168" width="3" height="110"/><rect x="38" y="239" width="3" height="39"/><rect x="44" y="236" width="3" height="21"/><rect x="49" y="257" width="3" height="9"/><rect x="55" y="255" width="3" height="28"/><rect x="60" y="262" width="3" height="21"/><rect x="66" y="170" width="3" height="92"/><rect x="71" y="149" width="3" height="11"/><rect x="77" y="148" width="3" height="2"/><rect x="82" y="135" width="3" height="67"/><rect x="88" y="202" width="3" height="55"/><rect x="93" y="247" width="3" height="11"/><rect x="99" y="243" width="3" height="24"/><rect x="104" y="258" width="3" height="10"/><rect x="110" y="236" width="3" height="17"/><rect x="115" y="235" width="3" height="13"/><rect x="121" y="248" width="3" height="105"/><rect x="126" y="344" width="3" height="25"/><rect x="132" y="368" width="3" height="3"/><rect x="137" y="368" width="3" height="30"/><rect x="143" y="397" width="3" height="33"/><rect x="149" y="413" width="3" height="17"/><rect x="154" y="410" width="3" height="5"/><rect x="160" y="410" width="3" height="7"/><rect x="165" y="400" width="3" height="13"/><rect x="171" y="347" width="3" height="53"/><rect x="176" y="346" width="3" height="27"/><rect x="182" y="366" width="3" height="176"/><rect x="187" y="533" width="3" height="10"/><rect x="193" y="505" width="3" height="24"/><rect x="198" y="431" width="3" height="97"/><rect x="204" y="431" width="3" height="25"/><rect x="209" y="453" width="3" height="3"/><rect x="215" y="446" width="3" height="8"/><rect x="220" y="444" width="3" height="30"/><rect x="226" y="443" width="3" height="29"/><rect x="231" y="443" width="3" height="58"/><rect x="237" y="509" width="3" height="8"/><rect x="242" y="506" width="3" height="11"/><rect x="248" y="509" width="3" height="6"/><rect x="253" y="454" width="3" height="61"/><rect x="259" y="392" width="3" height="62"/><rect x="265" y="392" width="3" height="10"/><rect x="270" y="385" width="3" height="18"/><rect x="276" y="388" width="3" height="7"/><rect x="281" y="388" width="3" height="2"/><rect x="287" y="387" width="3" height="3"/><rect x="292" y="392" width="3" height="12"/><rect x="298" y="401" width="3" height="4"/><rect x="303" y="402" width="3" height="1"/><rect x="309" y="387" width="3" height="4"/><rect x="314" y="390" width="3" height="33"/><rect x="320" y="422" width="3" height="124"/><rect x="325" y="534" width="3" height="12"/><rect x="331" y="534" width="3" height="3"/><rect x="336" y="527" width="3" height="9"/><rect x="342" y="527" width="3" height="1"/><rect x="347" y="476" width="3" height="52"/><rect x="353" y="476" width="3" height="15"/><rect x="358" y="480" width="3" height="11"/><rect x="364" y="477" width="3" height="1"/><rect x="369" y="478" width="3" height="60"/><rect x="375" y="537" width="3" height="42"/><rect x="381" y="569" width="3" height="9"/><rect x="386" y="566" width="3" height="4"/><rect x="392" y="557" width="3" height="12"/><rect x="397" y="527" width="3" height="29"/><rect x="403" y="526" width="3" height="40"/><rect x="408" y="565" width="3" height="4"/><rect x="414" y="568" width="3" height="17"/><rect x="419" y="544" width="3" height="32"/><rect x="425" y="544" width="3" height="39"/><rect x="430" y="582" width="3" height="6"/><rect x="436" y="588" width="3" height="31"/><rect x="441" y="618" width="3" height="14"/><rect x="447" y="621" width="3" height="70"/><rect x="452" y="687" width="3" height="4"/><rect x="458" y="678" width="3" height="10"/><rect x="463" y="675" width="3" height="3"/><rect x="469" y="654" width="3" height="22"/><rect x="474" y="637" width="3" height="17"/><rect x="480" y="586" width="3" height="46"/><rect x="486" y="577" width="3" height="11"/><rect x="491" y="428" width="3" height="149"/><rect x="497" y="429" width="3" height="13"/><rect x="502" y="432" width="3" height="10"/><rect x="508" y="433" width="3" height="18"/><rect x="513" y="433" width="3" height="15"/><rect x="519" y="444" width="3" height="5"/><rect x="524" y="447" width="3" height="14"/><rect x="530" y="453" width="3" height="7"/><rect x="535" y="453" width="3" height="39"/><rect x="541" y="491" width="3" height="65"/><rect x="546" y="556" width="3" height="117"/><rect x="552" y="665" width="3" height="9"/><rect x="557" y="665" width="3" height="10"/><rect x="563" y="648" width="3" height="16"/><rect x="568" y="613" width="3" height="51"/><rect x="574" y="522" width="3" height="92"/><rect x="579" y="523" width="3" height="9"/><rect x="585" y="531" width="3" height="17"/><rect x="590" y="546" width="3" height="15"/><rect x="596" y="560" width="3" height="18"/><rect x="602" y="577" width="3" height="11"/><rect x="607" y="585" width="3" height="40"/><rect x="613" y="624" width="3" height="4"/><rect x="618" y="609" width="3" height="25"/><rect x="624" y="611" width="3" height="1"/><rect x="629" y="601" width="3" height="13"/><rect x="635" y="587" width="3" height="21"/><rect x="640" y="584" width="3" height="7"/><rect x="646" y="582" width="3" height="9"/><rect x="651" y="574" width="3" height="45"/><rect x="657" y="596" width="3" height="24"/><rect x="662" y="595" width="3" height="1"/><rect x="668" y="594" width="3" height="8"/><rect x="673" y="595" width="3" height="6"/><rect x="679" y="585" width="3" height="19"/><rect x="684" y="590" width="3" height="14"/><rect x="690" y="589" width="3" height="39"/><rect x="695" y="628" width="3" height="16"/><rect x="701" y="623" width="3" height="21"/><rect x="706" y="620" width="3" height="29"/><rect x="712" y="554" width="3" height="96"/><rect x="718" y="555" width="3" height="56"/><rect x="723" y="611" width="3" height="10"/><rect x="729" y="621" width="3" height="9"/><rect x="734" y="608" width="3" height="17"/><rect x="740" y="608" width="3" height="9"/><rect x="745" y="474" width="3" height="143"/><rect x="751" y="268" width="3" height="206"/><rect x="756" y="179" width="3" height="89"/><rect x="762" y="179" width="3" height="41"/><rect x="767" y="208" width="3" height="12"/><rect x="773" y="172" width="3" height="37"/><rect x="778" y="162" width="3" height="11"/><rect x="784" y="161" width="3" height="1"/><rect x="789" y="82" width="3" height="18"/><rect x="795" y="82" width="3" height="11"/><rect x="800" y="80" width="3" height="13"/><rect x="806" y="80" width="3" height="20"/><rect x="811" y="98" width="3" height="24"/><rect x="817" y="114" width="3" height="8"/><rect x="823" y="30" width="3" height="79"/><rect x="828" y="29" width="3" height="19"/><rect x="834" y="48" width="3" height="12"/><rect x="839" y="62" width="3" height="39"/><rect x="845" y="98" width="3" height="3"/><rect x="850" y="98" width="3" height="146"/><rect x="856" y="228" width="3" height="16"/><rect x="861" y="228" width="3" height="213"/><rect x="867" y="434" width="3" height="4"/><rect x="872" y="348" width="3" height="86"/><rect x="878" y="333" width="3" height="17"/><rect x="883" y="338" width="3" height="14"/><rect x="889" y="338" width="3" height="14"/><rect x="894" y="351" width="3" height="118"/><rect x="900" y="434" width="3" height="32"/><rect x="905" y="513" width="3" height="74"/><rect x="911" y="513" width="3" height="34"/><rect x="916" y="490" width="3" height="56"/><rect x="922" y="497" width="3" height="21"/><rect x="927" y="500" width="3" height="18"/><rect x="933" y="494" width="3" height="7"/><rect x="939" y="500" width="3" height="43"/><rect x="944" y="540" width="3" height="11"/><rect x="950" y="538" width="3" height="4"/><rect x="955" y="538" width="3" height="4"/><rect x="961" y="540" width="3" height="37"/><rect x="966" y="575" width="3" height="44"/><rect x="972" y="604" width="3" height="13"/><rect x="977" y="605" width="3" height="1"/><rect x="983" y="605" width="3" height="24"/><rect x="988" y="578" width="3" height="43"/><rect x="994" y="551" width="3" height="27"/><rect x="999" y="550" width="3" height="41"/><rect x="1005" y="567" width="3" height="25"/><rect x="1010" y="566" width="3" height="1"/><rect x="1016" y="539" width="3" height="18"/><rect x="1021" y="539" width="3" height="29"/><rect x="1027" y="558" width="3" height="10"/><rect x="1032" y="558" width="3" height="10"/><rect x="1038" y="568" width="3" height="2"/><rect x="1043" y="568" width="3" height="3"/><rect x="1049" y="495" width="3" height="74"/><rect x="1055" y="495" width="3" height="37"/><rect x="1060" y="522" width="3" height="9"/><rect x="1066" y="523" width="3" height="4"/><rect x="1071" y="534" width="3" height="21"/><rect x="1077" y="554" width="3" height="21"/><rect x="1082" y="574" width="3" height="9"/><rect x="1088" y="580" width="3" height="8"/><rect x="1093" y="582" width="3" height="7"/><rect x="1099" y="561" width="3" height="10"/><rect x="1104" y="561" width="3" height="16"/><rect x="1110" y="569" width="3" height="9"/><rect x="1115" y="573" width="3" height="3"/><rect x="1121" y="573" width="3" height="5"/><rect x="1126" y="508" width="3" height="50"/><rect x="1132" y="507" width="3" height="1"/><rect x="1137" y="508" width="3" height="2"/><rect x="1143" y="509" width="3" height="10"/><rect x="1148" y="513" width="3" height="6"/><rect x="1154" y="520" width="3" height="40"/><rect x="1159" y="536" width="3" height="24"/><rect x="1165" y="536" width="3" height="19"/><rect x="1171" y="561" width="3" height="1"/><rect x="1176" y="562" width="3" height="4"/><rect x="1182" y="558" width="3" height="12"/><rect x="1187" y="554" width="3" height="16"/><rect x="1193" y="545" width="3" height="9"/><rect x="1198" y="527" width="3" height="22"/><rect x="1204" y="526" width="3" height="7"/><rect x="1209" y="409" width="3" height="130"/><rect x="1215" y="383" width="3" height="28"/><rect x="1220" y="372" width="3" height="12"/><rect x="1226" y="370" width="3" height="14"/><rect x="1231" y="370" width="3" height="14"/><rect x="1237" y="367" width="3" height="5"/><rect x="1242" y="367" width="3" height="5"/><rect x="1248" y="363" width="3" height="3"/><rect x="1253" y="363" width="3" height="1"/><rect x="1259" y="343" width="3" height="21"/><rect x="1264" y="340" width="3" height="5"/><rect x="1270" y="255" width="3" height="80"/><rect x="1276" y="256" width="3" height="64"/><rect x="1281" y="319" width="3" height="94"/><rect x="1287" y="408" width="3" height="4"/><rect x="1292" y="408" width="3" height="17"/><rect x="1298" y="395" width="3" height="16"/><rect x="1303" y="353" width="3" height="44"/><rect x="1309" y="353" width="3" height="13"/><rect x="1314" y="320" width="3" height="44"/><rect x="1320" y="317" width="3" height="4"/><rect x="1325" y="316" width="3" height="42"/><rect x="1331" y="357" width="3" height="16"/><rect x="1336" y="372" width="3" height="34"/><rect x="1342" y="404" width="3" height="34"/><rect x="1347" y="434" width="3" height="4"/><rect x="1353" y="420" width="3" height="13"/><rect x="1358" y="418" width="3" height="22"/><rect x="1364" y="417" width="3" height="23"/><rect x="1369" y="420" width="3" height="1"/><rect x="1375" y="421" width="3" height="7"/><rect x="1380" y="427" width="3" height="13"/><rect x="1386" y="435" width="3" height="5"/></g>
<g fill="#ffffff" shape-rendering="crispEdges"><rect x="22" y="194" width="1" height="1"/><rect x="28" y="169" width="1" height="22"/><rect x="39" y="240" width="1" height="37"/><rect x="61" y="263" width="1" height="19"/><rect x="67" y="171" width="1" height="90"/><rect x="72" y="150" width="1" height="9"/><rect x="94" y="248" width="1" height="9"/><rect x="105" y="259" width="1" height="8"/><rect x="111" y="237" width="1" height="15"/><rect x="150" y="414" width="1" height="15"/><rect x="155" y="411" width="1" height="3"/><rect x="166" y="401" width="1" height="11"/><rect x="172" y="348" width="1" height="51"/><rect x="188" y="534" width="1" height="8"/><rect x="199" y="432" width="1" height="95"/><rect x="210" y="454" width="1" height="1"/><rect x="216" y="447" width="1" height="6"/><rect x="227" y="444" width="1" height="27"/><rect x="243" y="507" width="1" height="9"/><rect x="254" y="455" width="1" height="59"/><rect x="260" y="393" width="1" height="60"/><rect x="271" y="386" width="1" height="16"/><rect x="277" y="389" width="1" height="5"/><rect x="288" y="388" width="1" height="1"/><rect x="299" y="402" width="1" height="2"/><rect x="326" y="535" width="1" height="10"/><rect x="337" y="528" width="1" height="7"/><rect x="348" y="477" width="1" height="50"/><rect x="359" y="481" width="1" height="9"/><rect x="382" y="570" width="1" height="7"/><rect x="387" y="567" width="1" height="2"/><rect x="393" y="558" width="1" height="10"/><rect x="398" y="528" width="1" height="27"/><rect x="420" y="545" width="1" height="30"/><rect x="453" y="688" width="1" height="2"/><rect x="459" y="679" width="1" height="8"/><rect x="464" y="676" width="1" height="1"/><rect x="470" y="655" width="1" height="20"/><rect x="475" y="638" width="1" height="15"/><rect x="481" y="587" width="1" height="44"/><rect x="487" y="578" width="1" height="9"/><rect x="492" y="429" width="1" height="147"/><rect x="503" y="433" width="1" height="8"/><rect x="509" y="434" width="1" height="16"/><rect x="520" y="445" width="1" height="3"/><rect x="531" y="454" width="1" height="5"/><rect x="553" y="666" width="1" height="7"/><rect x="569" y="614" width="1" height="49"/><rect x="575" y="523" width="1" height="90"/><rect x="619" y="610" width="1" height="23"/><rect x="630" y="602" width="1" height="11"/><rect x="636" y="588" width="1" height="19"/><rect x="647" y="583" width="1" height="7"/><rect x="658" y="597" width="1" height="22"/><rect x="674" y="596" width="1" height="4"/><rect x="685" y="591" width="1" height="12"/><rect x="702" y="624" width="1" height="19"/><rect x="713" y="555" width="1" height="94"/><rect x="735" y="609" width="1" height="15"/><rect x="746" y="475" width="1" height="141"/><rect x="752" y="269" width="1" height="204"/><rect x="757" y="180" width="1" height="87"/><rect x="768" y="209" width="1" height="10"/><rect x="774" y="173" width="1" height="35"/><rect x="779" y="163" width="1" height="9"/><rect x="790" y="83" width="1" height="16"/><rect x="801" y="81" width="1" height="11"/><rect x="818" y="115" width="1" height="6"/><rect x="824" y="31" width="1" height="77"/><rect x="846" y="99" width="1" height="1"/><rect x="857" y="229" width="1" height="14"/><rect x="868" y="435" width="1" height="2"/><rect x="873" y="349" width="1" height="84"/><rect x="884" y="339" width="1" height="12"/><rect x="901" y="435" width="1" height="30"/><rect x="906" y="514" width="1" height="72"/><rect x="917" y="491" width="1" height="54"/><rect x="928" y="501" width="1" height="16"/><rect x="951" y="539" width="1" height="2"/><rect x="973" y="605" width="1" height="11"/><rect x="989" y="579" width="1" height="41"/><rect x="995" y="552" width="1" height="25"/><rect x="1006" y="568" width="1" height="23"/><rect x="1017" y="540" width="1" height="16"/><rect x="1028" y="559" width="1" height="8"/><rect x="1044" y="569" width="1" height="1"/><rect x="1050" y="496" width="1" height="72"/><rect x="1061" y="523" width="1" height="7"/><rect x="1094" y="583" width="1" height="5"/><rect x="1100" y="562" width="1" height="8"/><rect x="1111" y="570" width="1" height="7"/><rect x="1116" y="574" width="1" height="1"/><rect x="1127" y="509" width="1" height="48"/><rect x="1149" y="514" width="1" height="4"/><rect x="1160" y="537" width="1" height="22"/><rect x="1188" y="555" width="1" height="14"/><rect x="1194" y="546" width="1" height="7"/><rect x="1199" y="528" width="1" height="20"/><rect x="1210" y="410" width="1" height="128"/><rect x="1216" y="384" width="1" height="26"/><rect x="1221" y="373" width="1" height="10"/><rect x="1232" y="371" width="1" height="12"/><rect x="1243" y="368" width="1" height="3"/><rect x="1249" y="364" width="1" height="1"/><rect x="1260" y="344" width="1" height="19"/><rect x="1265" y="341" width="1" height="3"/><rect x="1271" y="256" width="1" height="78"/><rect x="1288" y="409" width="1" height="2"/><rect x="1299" y="396" width="1" height="14"/><rect x="1304" y="354" width="1" height="42"/><rect x="1315" y="321" width="1" height="42"/><rect x="1321" y="318" width="1" height="2"/><rect x="1348" y="435" width="1" height="2"/><rect x="1354" y="421" width="1" height="11"/><rect x="1365" y="418" width="1" height="21"/><rect x="1387" y="436" width="1" height="3"/></g>
<polyline points="-4.6,1073.2 0.4,1071.3 6.4,1084.4 11.4,1099.0 17.4,1101.4 22.4,1099.0 28.4,1067.3 33.4,1064.3 39.4,1047.3 45.4,1065.3 50.4,1059.3 56.4,1081.0 61.4,1083.8 67.4,1029.2 72.4,963.3 78.4,892.2 83.4,892.2 89.4,946.0 94.4,999.2 100.4,1042.3 105.4,1041.7 111.4,1035.3 116.4,1021.6 122.4,1045.3 127.4,1079.3 133.4,1107.0 138.4,1099.4 144.4,1087.4 150.4,1069.3 155.4,1052.3 161.4,1046.3 166.4,1034.3 172.4,1003.2 177.4,980.2 183.4,1019.2 188.4,1075.3 194.4,1107.4 199.4,1033.3 205.4,985.2 210.4,947.0 216.4,953.2 221.4,960.6 227.4,957.2 232.4,980.3 238.4,997.3 243.4,1025.2 249.4,1029.2 254.4,981.2 260.4,906.0 266.4,850.2 271.4,816.5 277.4,829.1 282.4,824.1 288.4,827.1 293.4,837.1 299.4,843.7 304.4,852.2 310.4,844.3 315.4,868.0 321.4,944.2 326.4,1023.2 332.4,1081.0 337.4,1064.9 343.4,1056.3 348.4,1018.8 354.4,999.2 359.4,974.5 365.4,975.5 370.4,1004.2 376.4,1041.3 382.4,1073.7 387.4,1076.3 393.4,1057.3 398.4,1014.8 404.4,999.2 409.4,999.2 415.4,1036.3 420.4,1022.2 426.4,1030.9 431.4,1033.3 437.4,1069.3 442.4,1089.4 448.4,1100.4 453.4,1101.0 459.4,1088.4 464.4,1079.3 470.4,1060.3 475.4,1031.3 481.4,968.0 487.4,926.2 492.4,855.2 498.4,830.1 503.4,802.5 509.4,807.1 514.4,822.5 520.4,838.1 525.4,857.6 531.4,860.2 536.4,878.2 542.4,917.6 547.4,995.8 553.4,1045.3 558.4,1087.4 564.4,1084.4 569.4,1023.2 575.4,979.5 580.4,932.0 586.4,913.6 591.4,918.0 597.4,923.0 603.4,927.2 608.4,947.4 614.4,953.4 619.4,946.4 625.4,934.3 630.4,923.3 636.4,915.3 641.4,906.7 647.4,928.3 652.4,978.2 658.4,1007.0 663.4,1014.2 669.4,998.7 674.4,988.9 680.4,985.3 685.4,968.2 691.4,990.3 696.4,1020.8 702.4,1041.3 707.4,1057.7 713.4,991.5 719.4,983.3 724.4,963.0 730.4,1017.6 735.4,1011.2 741.4,1003.0 746.4,942.2 752.4,902.3 757.4,831.7 763.4,823.1 768.4,810.5 774.4,815.7 779.4,823.1 785.4,831.5 790.4,828.5 796.4,817.1 801.4,802.1 807.4,805.7 812.4,812.1 818.4,818.5 824.4,813.7 829.4,817.5 835.4,825.1 840.4,863.2 846.4,892.2 851.4,949.4 857.4,978.5 862.4,1033.3 868.4,1053.7 873.4,1059.3 879.4,1037.3 884.4,1015.6 890.4,1016.3 895.4,1044.3 901.4,1065.3 906.4,1080.0 912.4,1072.9 917.4,1060.3 923.4,1058.9 928.4,1039.3 934.4,1032.3 940.4,1026.6 945.4,1035.3 951.4,1041.3 956.4,1041.7 962.4,1048.3 967.4,1074.3 973.4,1087.8 978.4,1091.8 984.4,1097.0 989.4,1063.3 995.4,1025.2 1000.4,990.1 1006.4,985.0 1011.4,992.3 1017.4,947.2 1022.4,918.2 1028.4,888.8 1033.4,896.3 1039.4,897.3 1044.4,905.3 1050.4,874.8 1056.4,867.8 1061.4,855.2 1067.4,890.2 1072.4,930.0 1078.4,998.0 1083.4,1055.3 1089.4,1080.0 1094.4,1073.3 1100.4,1042.3 1105.4,1031.7 1111.4,1022.2 1116.4,1031.7 1122.4,1032.9 1127.4,980.3 1133.4,915.2 1138.4,854.2 1144.4,856.6 1149.4,862.2 1155.4,908.8 1160.4,924.6 1166.4,975.2 1172.4,993.3 1177.4,1041.5 1183.4,1063.3 1188.4,1062.3 1194.4,1041.3 1199.4,991.3 1205.4,959.2 1210.4,904.6 1216.4,873.2 1221.4,836.5 1227.4,842.1 1232.4,842.5 1238.4,848.2 1243.4,840.1 1249.4,837.1 1254.4,833.7 1260.4,822.5 1265.4,810.1 1271.4,796.5 1277.4,817.1 1282.4,874.2 1288.4,988.0 1293.4,1065.3 1299.4,1089.4 1304.4,1043.3 1310.4,1002.0 1315.4,957.2 1321.4,934.7 1326.4,930.0 1332.4,962.8 1337.4,1019.2 1343.4,1049.3 1348.4,1074.9 1354.4,1063.3 1359.4,1059.7 1365.4,1043.3 1370.4,1043.9 1376.4,1035.7 1381.4,1051.3 1387.4,1054.3" fill="none" stroke="#0b47d1" stroke-width="1.9" stroke-linejoin="round" stroke-linecap="round"/>
<polyline points="0.4,1079.3 6.4,1076.3 11.4,1084.9 17.4,1094.9 22.4,1099.8 28.4,1089.2 33.4,1076.9 39.4,1059.6 45.4,1059.0 50.4,1057.3 56.4,1068.5 61.4,1074.7 67.4,1064.7 72.4,1025.4 78.4,961.6 83.4,915.9 89.4,910.1 94.4,945.8 100.4,995.8 105.4,1027.7 111.4,1039.8 116.4,1032.9 122.4,1034.1 127.4,1048.7 133.4,1077.2 138.4,1095.2 144.4,1097.9 150.4,1085.4 155.4,1069.7 161.4,1056.0 166.4,1044.3 172.4,1027.9 177.4,1005.9 183.4,1000.9 188.4,1024.9 194.4,1067.3 199.4,1072.0 205.4,1042.0 210.4,988.5 216.4,961.8 221.4,953.6 227.4,957.0 232.4,966.0 238.4,978.3 243.4,1000.9 249.4,1017.2 254.4,1011.9 260.4,972.1 266.4,912.5 271.4,857.6 277.4,831.9 282.4,823.2 288.4,826.8 293.4,829.4 299.4,836.0 304.4,844.3 310.4,846.7 315.4,854.8 321.4,885.5 326.4,945.1 332.4,1016.1 337.4,1056.4 343.4,1067.4 348.4,1046.7 354.4,1024.8 359.4,997.5 365.4,983.1 370.4,984.7 376.4,1007.0 382.4,1039.7 387.4,1063.8 393.4,1069.1 398.4,1049.5 404.4,1023.8 409.4,1004.4 415.4,1011.6 420.4,1019.2 426.4,1029.8 431.4,1028.8 437.4,1044.5 442.4,1064.0 448.4,1086.4 453.4,1096.9 459.4,1096.6 464.4,1089.6 470.4,1076.0 475.4,1057.0 481.4,1019.9 487.4,975.2 492.4,916.5 498.4,870.5 503.4,829.3 509.4,813.2 514.4,810.7 520.4,822.6 525.4,839.4 531.4,852.0 536.4,865.3 542.4,885.3 547.4,930.5 553.4,986.2 558.4,1042.8 564.4,1072.4 569.4,1065.0 575.4,1029.0 580.4,978.2 586.4,941.7 591.4,921.2 597.4,918.2 603.4,922.7 608.4,932.5 614.4,942.7 619.4,949.1 625.4,944.7 630.4,934.7 636.4,924.3 641.4,915.1 647.4,916.8 652.4,937.7 658.4,971.2 663.4,999.8 669.4,1006.6 674.4,1000.6 680.4,991.0 685.4,980.8 691.4,981.3 696.4,993.1 702.4,1017.5 707.4,1039.9 713.4,1030.2 719.4,1010.8 724.4,979.3 730.4,988.0 735.4,997.3 741.4,1010.6 746.4,985.5 752.4,949.2 757.4,892.1 763.4,852.4 768.4,821.8 774.4,816.4 779.4,816.4 785.4,823.4 790.4,827.7 796.4,825.7 801.4,815.9 807.4,808.3 812.4,806.6 818.4,812.1 824.4,814.8 829.4,816.6 835.4,818.8 840.4,835.3 846.4,860.2 851.4,901.6 857.4,940.0 862.4,987.1 868.4,1021.8 873.4,1048.8 879.4,1050.1 884.4,1037.4 890.4,1023.1 895.4,1025.4 901.4,1042.0 906.4,1063.2 912.4,1072.7 917.4,1071.1 923.4,1064.0 928.4,1052.8 934.4,1043.5 940.4,1032.7 945.4,1031.4 951.4,1034.4 956.4,1039.4 962.4,1043.8 967.4,1054.8 973.4,1070.1 978.4,1084.6 984.4,1092.2 989.4,1084.0 995.4,1061.8 1000.4,1026.2 1006.4,1000.1 1011.4,989.1 1017.4,974.8 1022.4,952.6 1028.4,918.1 1033.4,901.1 1039.4,894.1 1044.4,899.6 1050.4,892.5 1056.4,882.6 1061.4,865.9 1067.4,871.1 1072.4,891.8 1078.4,939.4 1083.4,994.4 1089.4,1044.4 1094.4,1069.5 1100.4,1065.2 1105.4,1049.1 1111.4,1032.1 1116.4,1028.5 1122.4,1028.9 1127.4,1015.0 1133.4,976.1 1138.4,916.6 1144.4,875.3 1149.4,857.7 1155.4,875.9 1160.4,898.5 1166.4,936.2 1172.4,964.4 1177.4,1003.3 1183.4,1032.7 1188.4,1055.7 1194.4,1055.6 1199.4,1031.6 1205.4,997.3 1210.4,951.7 1216.4,912.3 1221.4,871.4 1227.4,850.6 1232.4,840.4 1238.4,844.3 1243.4,843.6 1249.4,841.8 1254.4,837.0 1260.4,831.1 1265.4,822.1 1271.4,809.7 1277.4,807.9 1282.4,829.3 1288.4,893.1 1293.4,975.8 1299.4,1047.6 1304.4,1066.0 1310.4,1044.9 1315.4,1000.8 1321.4,964.6 1326.4,940.6 1332.4,942.5 1337.4,970.7 1343.4,1010.4 1348.4,1047.8 1354.4,1062.5 1359.4,1066.0 1365.4,1055.4 1370.4,1049.0 1376.4,1041.0 1381.4,1043.6 1387.4,1047.1" fill="none" stroke="#f06a10" stroke-width="3" stroke-linejoin="round" stroke-linecap="round"/>
<polyline points="1399.5,435.3 1424.5,325.8 1449.6,378.4 1482.2,254.2" fill="none" stroke="#008000" stroke-width="3" stroke-linejoin="round" stroke-linecap="round"/>
<polygon points="1424.5,325.8 1425.5,341.2 1416.9,339.2" fill="#008000"/>
<polygon points="1449.6,378.4 1439.3,366.9 1447.2,363.1" fill="#008000"/>
<polygon points="1482.2,254.2 1482.7,269.6 1474.2,267.4" fill="#008000"/>
<rect x="1514" y="0" width="62" height="758" fill="#ffffff"/>
<rect x="1514" y="759" width="62" height="412" fill="#ffffff"/>
<rect x="0" y="1139" width="1576" height="32" fill="#ffffff"/>
<rect x="1576" y="0" width="2" height="1178" fill="#ebebeb" shape-rendering="crispEdges"/>
<rect x="0" y="1171" width="1576" height="1" fill="#ebebeb" shape-rendering="crispEdges"/>
<rect x="4" y="3" width="164" height="24" fill="rgba(255,255,255,0.55)"/><circle cx="17.9" cy="15.1" r="8.9" fill="#0a78c6"/>
<path d="M19.4 9.4 L19.0 12.2 C16.4 11.9 14.4 13.7 14.4 16.0 C14.4 18.3 16.1 19.8 18.0 19.8 C19.9 19.8 21.2 18.5 21.2 16.9 C21.2 15.4 20.1 14.5 18.9 14.5 C17.7 14.5 16.9 15.4 16.9 16.4" fill="none" stroke="#eaf6ff" stroke-width="1.7" stroke-linecap="round" stroke-linejoin="round" transform="translate(17.6 15.3) scale(0.82 0.9) translate(-17.9 -15.1)"/>
<circle cx="154" cy="14.8" r="9.05" fill="#f6d4e0"/>
<path d="M150.1 13.5 C151.2 12.0 152.6 12.1 154.0 12.8 C155.4 13.5 156.8 13.4 158.0 12.1 M150.1 17.6 C151.2 16.1 152.6 16.2 154.0 16.9 C155.4 17.6 156.8 17.5 158.0 16.2" fill="none" stroke="#cc1f63" stroke-width="1.4" stroke-linecap="round"/>
<g stroke="#ffffff" stroke-width="4" stroke-linejoin="round" fill="#ffffff"><path d="M11.9 1110.2 H24.4 V1124.6 H18.1 V1116.4 H11.9 Z"/><circle cx="28.8" cy="1112.9" r="2.8"/><path d="M34.1 1110.2 H41.6 L36.0 1124.6 H28.5 Z"/><rect x="44" y="1109" width="128" height="17"/></g>
<path d="M11.9 1110.2 H24.4 V1124.6 H18.1 V1116.4 H11.9 Z" fill="#131722"/>
<circle cx="28.8" cy="1112.9" r="2.8" fill="#131722"/>
<path d="M34.1 1110.2 H41.6 L36.0 1124.6 H28.5 Z" fill="#131722"/>
<path d="M1538.1 1155.4 L1541.6 1149.2 H1549.4 L1552.9 1155.4 L1549.4 1161.7 H1541.6 Z" fill="none" stroke="#131722" stroke-width="1.2" stroke-linejoin="round"/>
<circle cx="1545.5" cy="1155.4" r="1.9" fill="none" stroke="#131722" stroke-width="1.2"/>
</svg>
<div class="legend">GAZP <b>·</b> 4ч <b>·</b> RUS</div>
<div class="rub"><span style="display:inline-block;transform:scaleX(0.87);transform-origin:0 50%;">RUB</span></div>
<svg width="10" height="8" style="left:1560px;top:12px" viewBox="0 0 10 8"><path d="M2.3 3.1 L4.6 5.1 L6.9 3.1" fill="none" stroke="#131722" stroke-width="1.4" stroke-linecap="round" stroke-linejoin="round"/></svg>
<div class="pl" style="top:40.9px">127,00</div>
<div class="pl" style="top:89.7px">126,00</div>
<div class="pl" style="top:138.5px">125,00</div>
<div class="pl" style="top:187.3px">124,00</div>
<div class="pl" style="top:236.1px">123,00</div>
<div class="pl" style="top:284.9px">122,00</div>
<div class="pl" style="top:333.7px">121,00</div>
<div class="pl" style="top:382.5px">120,00</div>
<div class="pl" style="top:431.3px">119,00</div>
<div class="pl" style="top:480.0px">118,00</div>
<div class="pl" style="top:528.8px">117,00</div>
<div class="pl" style="top:577.6px">116,00</div>
<div class="pl" style="top:626.4px">115,00</div>
<div class="pl" style="top:675.2px">114,00</div>
<div class="pl" style="top:724.0px">113,00</div>
<div class="pl" style="top:776.3px">100,00</div>
<div class="pl" style="top:846.1px">80,00</div>
<div class="pl" style="top:915.7px">60,00</div>
<div class="pl" style="top:985.3px">40,00</div>
<div class="pl" style="top:1055.1px">20,00</div>
<div class="pl" style="top:1124.3px">0,00</div>
<div class="tag" style="top:243px">122,84</div>
<div class="tag" style="top:464px">118,31</div>
<div class="tl" style="left:-2.5px">16</div>
<div class="tl" style="left:80.5px">19</div>
<div class="tl" style="left:163.5px">24</div>
<div class="tl" style="left:246.5px">27</div>
<div class="tl" style="left:334.5px"><b>Окт</b></div>
<div class="tl" style="left:417.5px">4</div>
<div class="tl" style="left:478.5px">7</div>
<div class="tl" style="left:560.5px">10</div>
<div class="tl" style="left:621.5px">13</div>
<div class="tl" style="left:704.5px">16</div>
<div class="tl" style="left:776.5px">19</div>
<div class="tl" style="left:848.5px">22</div>
<div class="tl" style="left:931.5px">27</div>
<div class="tl" style="left:1069.5px"><b>Ноя</b></div>
<div class="tl" style="left:1152.5px">6</div>
<div class="tl" style="left:1223.5px">9</div>
<div class="tl" style="left:1295.5px">12</div>
<div class="tl" style="left:1378.5px">15</div>
<div class="tl" style="left:1439.5px">18</div>
<div class="logo">TradingView</div>
</body></html>
